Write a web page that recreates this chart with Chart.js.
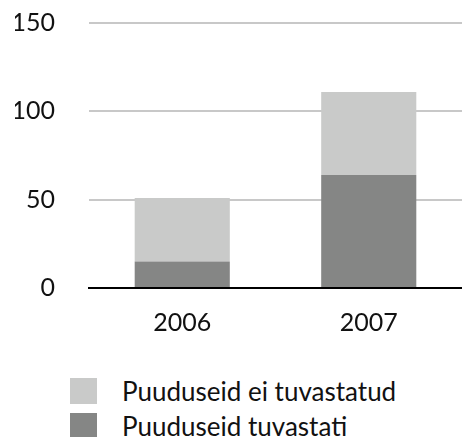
<!DOCTYPE html>
<html>
<head>
<meta charset="utf-8">
<script src="https://cdn.jsdelivr.net/npm/chart.js@4"></script>
<style>
  html, body { margin: 0; padding: 0; background: #fff; }
  #wrap { position: relative; width: 462px; height: 437px; }
  #chart { position: absolute; left: 0; top: 0; }
  #legend { position: absolute; left: 70px; top: 373px; font-family: Lato, sans-serif; font-size: 26px; color: #111; }
  .item { display: flex; align-items: center; height: 35px; }
  .box { width: 27px; height: 26px; margin-right: 25px; }
</style>
</head>
<body>
<div id="wrap">
  <canvas id="chart" width="462" height="350"></canvas>
  <div id="legend"></div>
</div>
<script>
const years = ['2006', '2007'];
const detected = [15, 64];
const notDetected = [36, 47];
const seriesNames = ['Puuduseid tuvastati', 'Puuduseid ei tuvastatud'];
const seriesColors = ['#858685', '#c9cac9'];

const font = { family: 'Lato, sans-serif', size: 25 };

const ctx = document.getElementById('chart').getContext('2d');
const chart = new Chart(ctx, {
    type: 'bar',
    data: {
        labels: years,
        datasets: [{
            label: seriesNames[0],
            data: detected,
            backgroundColor: seriesColors[0]
        }, {
            label: seriesNames[1],
            data: notDetected,
            backgroundColor: seriesColors[1]
        }]
    },
    options: {
        responsive: false,
        animation: false,
        datasets: { bar: { categoryPercentage: 1, barPercentage: 0.51 } },
        layout: { padding: { left: 15, top: 0, right: 0, bottom: 0 } },
        plugins: { legend: { display: false }, tooltip: { enabled: false } },
        scales: {
            x: {
                stacked: true,
                grid: { display: false },
                border: { color: '#000', width: 2 },
                ticks: { font: font, color: '#111', padding: 12 }
            },
            y: {
                stacked: true,
                min: 0,
                max: 150,
                // fixed axis width and top room so the plot lines up with the original
                afterFit: s => { s.width = 74; s.paddingTop = 23; s.paddingBottom = 0; },
                grid: {
                    color: c => c.tick.value === 0 ? '#000' : '#c8c8c8',
                    lineWidth: 2,
                    drawTicks: false
                },
                border: { display: false },
                ticks: { stepSize: 50, font: font, color: '#111', padding: 34 }
            }
        }
    }
});

// legend, light series first as in the original
const legend = document.getElementById('legend');
[1, 0].forEach(i => {
    const row = document.createElement('div');
    row.className = 'item';
    row.innerHTML = '<div class="box" style="background:' + seriesColors[i] + '"></div><span>' + seriesNames[i] + '</span>';
    legend.appendChild(row);
});
</script>
</body>
</html>
